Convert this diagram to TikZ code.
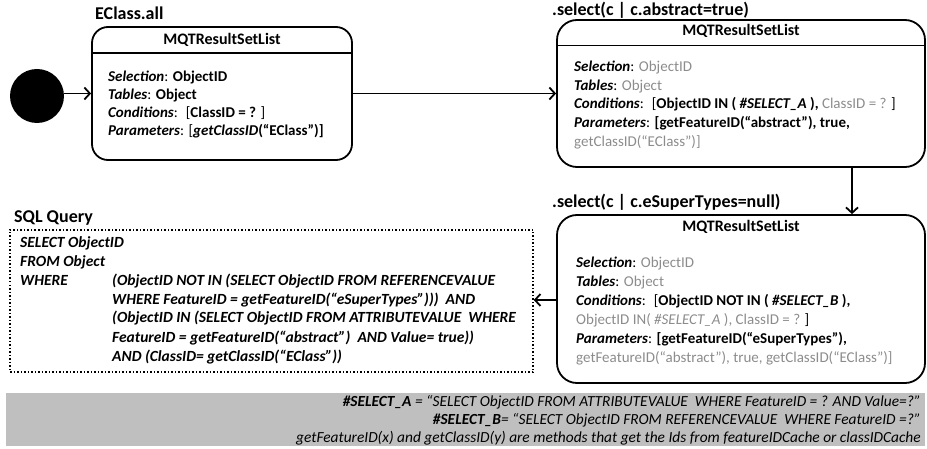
\documentclass[tikz,border=0pt]{standalone}
\usepackage{fontspec}
\setmainfont{Carlito}
\usetikzlibrary{arrows.meta}
\definecolor{txtgray}{RGB}{140,140,140}
\definecolor{bandgray}{RGB}{191,191,191}
\newcommand\gtx[1]{\textcolor{txtgray}{#1}}
\newcommand\bi[1]{\textbf{\textit{#1}}}
\begin{document}
\begin{tikzpicture}[x=1pt,y=-1pt,
  statebox/.style={draw, line width=1.8pt, inner sep=0pt},
  arr/.style={line width=1.8pt, -{Straight Barb[length=5.5pt,width=12pt]}},
  body/.style={anchor=base west, inner sep=0pt, font=\fontsize{15}{17}\selectfont},
  head/.style={anchor=base, inner sep=0pt, font=\fontsize{16}{18}\selectfont\bfseries},
  ttl/.style={anchor=base west, inner sep=0pt, font=\fontsize{18}{20}\selectfont\bfseries},
  sql/.style={anchor=base west, inner sep=0pt, font=\fontsize{15.5}{17}\selectfont\bfseries\itshape},
  note/.style={anchor=base east, inner sep=0pt, font=\fontsize{15.4}{17}\selectfont\itshape}]
\useasboundingbox (0,0) rectangle (927,449);

% gray band
\fill[bandgray] (6,393) rectangle (925,446);

% initial state
\node[circle, fill=black, minimum size=54pt, inner sep=0pt] (init) at (37,96) {};

% box 1
\node[statebox, rounded corners=16pt, minimum width=260pt, minimum height=133pt] (b1) at (222,93.5) {};
\draw[line width=1.8pt] (b1.west |- 0,53) -- (b1.east |- 0,53);
\node[ttl] (t1) at (95,19.8) {EClass.all};
\node[head] (h1) at (222,44.6) {MQTResultSetList};
\node[body] (b1l1) at (108,81.8) {\bi{Selection}: \textbf{ObjectID}};
\node[body] (b1l2) at (108,99.8) {\bi{Tables}: \textbf{Object}};
\node[body] (b1l3) at (108,117.8) {\bi{Conditions}:~ [\textbf{ClassID = ?} ]};
\node[body] (b1l4) at (108,135.8) {\bi{Parameters}: [\bi{getClassID}\textbf{(“EClass”)]}};

% box 2
\node[statebox, rounded corners=20pt, minimum width=368pt, minimum height=147pt] (b2) at (741,93.5) {};
\draw[line width=1.8pt] (b2.west |- 0,45.5) -- (b2.east |- 0,45.5);
\node[ttl] (t2) at (552,15.8) {.select(c | c.abstract=true)};
\node[head] (h2) at (741,35.2) {MQTResultSetList};
\node[body] (b2l1) at (574,71.5) {\bi{Selection}: \gtx{ObjectID}};
\node[body] (b2l2) at (574,90.5) {\bi{Tables}: \gtx{Object}};
\node[body] (b2l3) at (574,109) {\bi{Conditions}:~ [\textbf{ObjectID IN ( \textit{\#SELECT\_A} ),} \gtx{ClassID = ?} ]};
\node[body] (b2l4) at (574,128) {\bi{Parameters}: \textbf{[getFeatureID(“abstract”), true,}};
\node[body] (b2l5) at (574,147) {\gtx{getClassID(“EClass”)]}};

% box 3
\node[statebox, rounded corners=20pt, minimum width=368pt, minimum height=168pt] (b3) at (741,299) {};
\node[ttl] (t3) at (552,207.5) {.select(c | c.eSuperTypes=null)};
\node[head] (h3) at (741,231.9) {MQTResultSetList};
\node[body] (b3l1) at (576,268) {\bi{Selection}: \gtx{ObjectID}};
\node[body] (b3l2) at (576,286.5) {\bi{Tables}: \gtx{Object}};
\node[body] (b3l3) at (576,305.5) {\bi{Conditions}:~ [\textbf{ObjectID NOT IN ( \textit{\#SELECT\_B} ),}};
\node[body] (b3l4) at (576,324.5) {\gtx{ObjectID IN( \textit{\#SELECT\_A} ), ClassID = ?} ]};
\node[body] (b3l5) at (576,343.5) {\bi{Parameters}: \textbf{[getFeatureID(“eSuperTypes”),}};
\node[body] (b3l6) at (576,362.5) {\gtx{getFeatureID(“abstract”), true, getClassID(“EClass”)]}};

% SQL box
\node[draw, line width=1.5pt, dash pattern=on 1.5pt off 2pt, inner sep=0pt, minimum width=523pt, minimum height=142pt] (sqlb) at (271.5,301) {};
\node[ttl] (t4) at (14,222.5) {SQL Query};
\node[sql] (s1) at (20,247.5) {SELECT ObjectID};
\node[sql] (s2) at (20,266.5) {FROM Object};
\node[sql] (s3) at (20,285.5) {WHERE};
\node[sql] (s4) at (112,285.5) {(ObjectID NOT IN (SELECT ObjectID FROM REFERENCEVALUE};
\node[sql] (s5) at (112,304.5) {WHERE FeatureID = getFeatureID(“eSuperTypes”)))~ AND};
\node[sql] (s6) at (112,323) {(ObjectID IN (SELECT ObjectID FROM ATTRIBUTEVALUE~ WHERE};
\node[sql] (s7) at (112,342) {FeatureID = getFeatureID(“abstract”)~ AND Value= true))};
\node[sql] (s8) at (112,361) {AND (ClassID= getClassID(“EClass”))};

% notes
\node[note] (n1) at (921,406) {\textbf{\#SELECT\_A} = “SELECT ObjectID FROM ATTRIBUTEVALUE~ WHERE FeatureID = ? AND Value=?”};
\node[note] (n2) at (921,424) {\textbf{\#SELECT\_B}= “SELECT ObjectID FROM REFERENCEVALUE~ WHERE FeatureID =?”};
\node[note] (n3) at (921,442) {getFeatureID(x) and getClassID(y) are methods that get the Ids from featureIDCache or classIDCache};

% connectors
\coordinate (dx) at (852,0);
\draw[arr] (init.east |- b1.west) -- (b1.west);
\draw[arr] (b1.east) -- (b2.west);
\draw[arr] (b2.south -| dx) -- (b3.north -| dx);
\draw[arr] (b3.west |- 0,300) -- (sqlb.east |- 0,300);
\end{tikzpicture}
\end{document}
